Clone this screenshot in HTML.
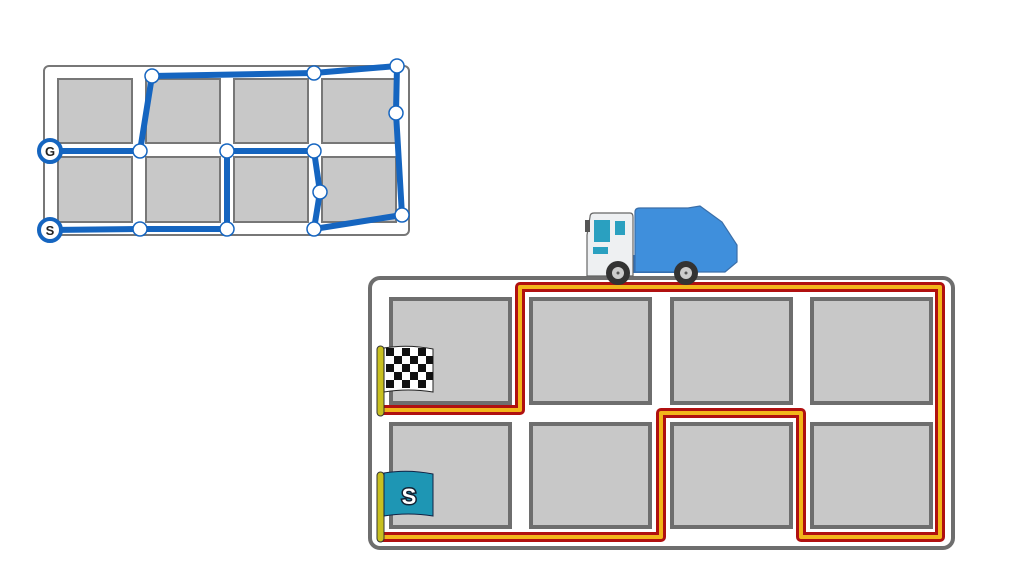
<!DOCTYPE html>
<html><head><meta charset="utf-8"><style>html,body{margin:0;padding:0;background:#fff}svg{display:block}</style></head>
<body>
<svg width="1024" height="576" viewBox="0 0 1024 576" xmlns="http://www.w3.org/2000/svg">
<rect x="44" y="66" width="365" height="169" rx="5" fill="#fff" stroke="#777" stroke-width="2"/>
<g fill="#c8c8c8" stroke="#777" stroke-width="2">
<rect x="58" y="79" width="74" height="64"/><rect x="146" y="79" width="74" height="64"/><rect x="234" y="79" width="74" height="64"/><rect x="322" y="79" width="74" height="64"/>
<rect x="58" y="157" width="74" height="65"/><rect x="146" y="157" width="74" height="65"/><rect x="234" y="157" width="74" height="65"/><rect x="322" y="157" width="74" height="65"/>
</g>
<polyline points="50,230 140,229 227,229 227,151 314,151 320,192 314,229 402,215 396,113 397,66 314,73 152,76 140,151 50,151" fill="none" stroke="#1565c0" stroke-width="6" stroke-linejoin="round"/>
<g fill="#fff" stroke="#1565c0" stroke-width="1.5">
<circle cx="152" cy="76" r="7"/><circle cx="314" cy="73" r="7"/><circle cx="397" cy="66" r="7"/><circle cx="396" cy="113" r="7"/><circle cx="402" cy="215" r="7"/><circle cx="314" cy="229" r="7"/><circle cx="320" cy="192" r="7"/><circle cx="314" cy="151" r="7"/><circle cx="227" cy="151" r="7"/><circle cx="227" cy="229" r="7"/><circle cx="140" cy="229" r="7"/><circle cx="140" cy="151" r="7"/>
</g>
<g fill="#fff" stroke="#1565c0" stroke-width="4">
<circle cx="50" cy="151" r="11"/><circle cx="50" cy="230" r="11"/>
</g>
<g font-family="Liberation Sans, sans-serif" font-weight="bold" font-size="13" text-anchor="middle" fill="#222">
<text x="50" y="156">G</text><text x="50" y="235">S</text>
</g>
<rect x="370" y="278" width="583" height="270" rx="10" fill="#fff" stroke="#6e6e6e" stroke-width="4"/>
<g fill="#c8c8c8" stroke="#6e6e6e" stroke-width="4">
<rect x="391" y="299" width="119" height="104"/><rect x="531" y="299" width="119" height="104"/><rect x="672" y="299" width="119" height="104"/><rect x="812" y="299" width="119" height="104"/>
<rect x="391" y="424" width="119" height="103"/><rect x="531" y="424" width="119" height="103"/><rect x="672" y="424" width="119" height="103"/><rect x="812" y="424" width="119" height="103"/>
</g>
<g fill="none" stroke-linejoin="round">
<path d="M380,410 H520 V287 H940 V537 H801 V413 H661 V537 H380" stroke="#b01010" stroke-width="10"/>
<path d="M380,410 H520 V287 H940 V537 H801 V413 H661 V537 H380" stroke="#f2b61a" stroke-width="4"/>
</g>
<rect x="377" y="346" width="7" height="70" rx="3.5" fill="#c8c020" stroke="#333" stroke-width="1"/>
<path d="M384,348 Q408,344 433,349 V392 Q408,388 384,392 Z" fill="#fff" stroke="#222" stroke-width="1"/>
<g fill="#111">
<rect x="386" y="348" width="8" height="8"/><rect x="402" y="348" width="8" height="8"/><rect x="418" y="348" width="8" height="8"/>
<rect x="394" y="356" width="8" height="8"/><rect x="410" y="356" width="8" height="8"/><rect x="426" y="356" width="7" height="8"/>
<rect x="386" y="364" width="8" height="8"/><rect x="402" y="364" width="8" height="8"/><rect x="418" y="364" width="8" height="8"/>
<rect x="394" y="372" width="8" height="8"/><rect x="410" y="372" width="8" height="8"/><rect x="426" y="372" width="7" height="8"/>
<rect x="386" y="380" width="8" height="8"/><rect x="402" y="380" width="8" height="8"/><rect x="418" y="380" width="8" height="8"/>
</g>
<rect x="377" y="472" width="7" height="70" rx="3.5" fill="#c8c020" stroke="#333" stroke-width="1"/>
<path d="M384,473 Q408,469 433,474 V516 Q408,512 384,516 Z" fill="#1e96b4" stroke="#124" stroke-width="1"/>
<text x="409" y="504" font-family="Liberation Sans, sans-serif" font-weight="bold" font-size="22" text-anchor="middle" fill="#fff" stroke="#123" stroke-width="3" paint-order="stroke">S</text>
<rect x="631" y="255" width="60" height="18" fill="#2a72c0"/>
<path d="M635,212 Q635,208 640,208 L688,208 L700,206 L722,222 L737,245 V262 L725,272 H635 Z" fill="#3f8fdc" stroke="#3a6ea8" stroke-width="1.2"/>
<path d="M590,217 Q590,213 594,213 H630 Q633,213 633,217 V276 H587 V235 Z" fill="#eef0f2" stroke="#666" stroke-width="1.2"/>
<rect x="585" y="220" width="5" height="12" fill="#555"/>
<path d="M594,220 H610 V242 H594 Z" fill="#2aa0c0"/>
<rect x="615" y="221" width="10" height="14" fill="#2aa0c0"/>
<rect x="593" y="247" width="15" height="7" fill="#2aa0c0"/>
<circle cx="618" cy="273" r="12" fill="#333"/><circle cx="618" cy="273" r="6" fill="#ccc"/><circle cx="618" cy="273" r="1.5" fill="#555"/>
<circle cx="686" cy="273" r="12" fill="#333"/><circle cx="686" cy="273" r="6" fill="#ccc"/><circle cx="686" cy="273" r="1.5" fill="#555"/>
</svg>
</body></html>
